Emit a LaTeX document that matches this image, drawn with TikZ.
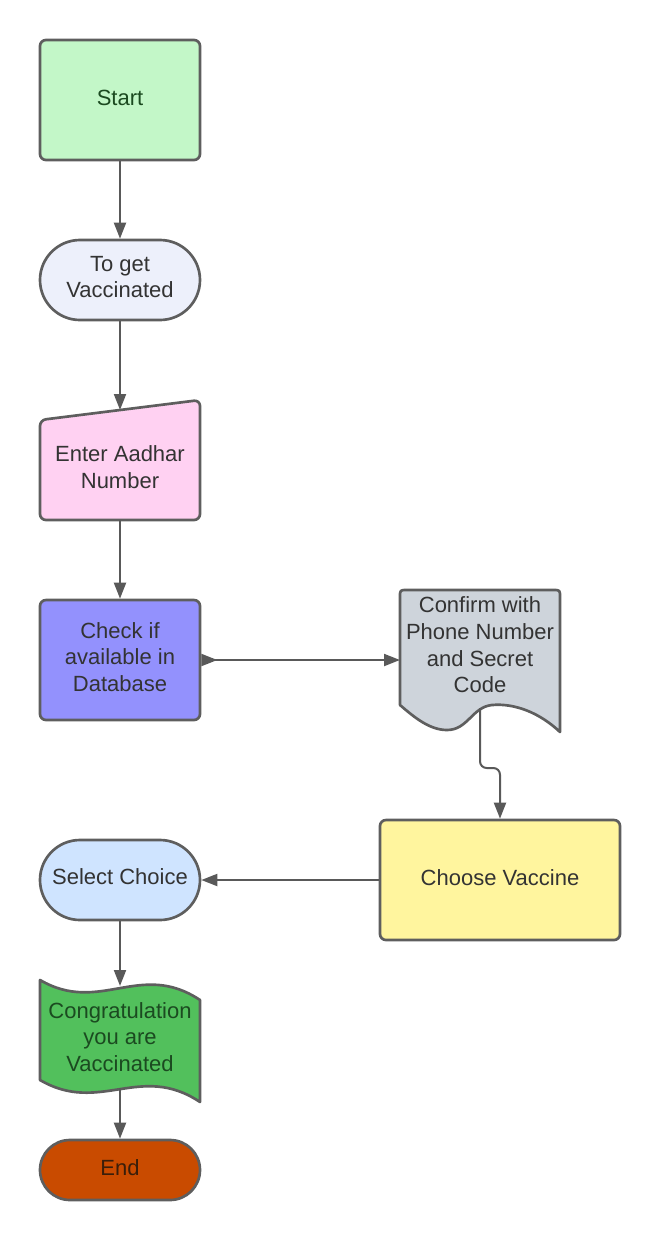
\documentclass[tikz,border=0pt]{standalone}
\usepackage{fontspec}
\setmainfont{Liberation Sans}
\usetikzlibrary{shapes.misc,arrows.meta}
\definecolor{bordc}{HTML}{5E5E5E}
\definecolor{arrc}{HTML}{595959}
\definecolor{txtc}{HTML}{333333}
\definecolor{startfill}{HTML}{C3F7C8}
\definecolor{getfill}{HTML}{EDF0FB}
\definecolor{aadfill}{HTML}{FFD1F2}
\definecolor{chkfill}{HTML}{9391FD}
\definecolor{cnffill}{HTML}{CED4DB}
\definecolor{chsfill}{HTML}{FFF59E}
\definecolor{selfill}{HTML}{CFE4FF}
\definecolor{conffill}{HTML}{52C05C}
\definecolor{endfill}{HTML}{C94B00}
\definecolor{dkgreen}{HTML}{1B4A20}
\definecolor{endtxt}{HTML}{3A1E0A}
\tikzset{
  lbl/.style={text=txtc, align=center, font=\fontsize{16.5}{20}\selectfont, inner sep=0pt},
  shp/.style={draw=bordc, line width=2pt, line join=round},
  boxshape/.style={shp, rectangle, rounded corners=4.5pt, inner sep=0pt},
  pill/.style={shp, rounded rectangle, inner sep=0pt},
  arr/.style={draw=arrc, line width=1.5pt, -{Triangle[length=12pt,width=9pt]}},
}
\begin{document}
\begin{tikzpicture}[x=0.75pt,y=-0.75pt]
\useasboundingbox (0,0) rectangle (660,1240);
% Start
\node[boxshape, fill=startfill, minimum width=120pt, minimum height=90pt] (start) at (120,100) {};
\node[lbl, text=dkgreen] (startt) at (120,98) {Start};
% To get Vaccinated
\node[pill, fill=getfill, minimum width=120pt, minimum height=60pt] (getv) at (120,280) {};
\node[lbl] (getvt) at (120,277) {To get\\Vaccinated};
% Enter Aadhar Number (manual input)
\draw[shp, fill=aadfill, rounded corners=4.5pt] (40,420) -- (200,400) -- (200,520) -- (40,520) -- cycle;
\coordinate (aadtop) at (120,410);
\coordinate (aadbot) at (120,520);
\node[lbl] (aadt) at (120,467) {Enter Aadhar\\Number};
% Check database
\node[boxshape, fill=chkfill, minimum width=120pt, minimum height=90pt] (chk) at (120,660) {};
\node[lbl] (chkt) at (120,657) {Check if\\available in\\Database};
% Confirm (document)
\draw[shp, fill=cnffill] (400,705) -- (400,597) .. controls (400,590) .. (407,590) -- (553,590)
  .. controls (560,590) .. (560,597) -- (560,732)
  .. controls (540,713) and (515,703) .. (492,705)
  .. controls (472,707) and (468,730) .. (447,730)
  .. controls (430,730) and (415,718) .. (400,705) -- cycle;
\coordinate (cnfbot) at (480,708);
\node[lbl] (cnft) at (480,645) {Confirm with\\Phone Number\\and Secret\\Code};
% Choose Vaccine
\node[boxshape, fill=chsfill, minimum width=180pt, minimum height=90pt] (chs) at (500,880) {};
\node[lbl] (chst) at (500,878) {Choose Vaccine};
% Select Choice
\node[pill, fill=selfill, minimum width=120pt, minimum height=60pt] (sel) at (120,880) {};
\node[lbl] (selt) at (120,877) {Select Choice};
% Congratulation (tape)
\draw[shp, fill=conffill] (40,980) .. controls (100,1015) and (140,960) .. (200,1000)
  -- (200,1102) .. controls (140,1062) and (100,1115) .. (40,1080) -- cycle;
\coordinate (contop) at (120,986);
\coordinate (conbot) at (120,1088);
\node[lbl, text=dkgreen] (cont) at (120,1037) {Congratulation\\you are\\Vaccinated};
% End
\node[pill, fill=endfill, minimum width=120pt, minimum height=45pt] (endn) at (120,1170) {};
\node[lbl, text=endtxt] (endt) at (120,1168) {End};
% Connectors
\draw[arr] (start.south) -- (getv.north);
\draw[arr] (getv.south) -- (aadtop);
\draw[arr] (aadbot) -- (chk.north);
\draw[draw=arrc, line width=1.5pt, {Triangle[length=12pt,width=9pt,reversed]}-{Triangle[length=12pt,width=9pt]}] (chk.east) -- (400,660);
\draw[arr, rounded corners=5pt] (cnfbot) -- (480,768) -- (500,768) -- (chs.north);
\draw[arr] (chs.west) -- (sel.east);
\draw[arr] (sel.south) -- (contop);
\draw[arr] (conbot) -- (endn.north);
\end{tikzpicture}
\end{document}
